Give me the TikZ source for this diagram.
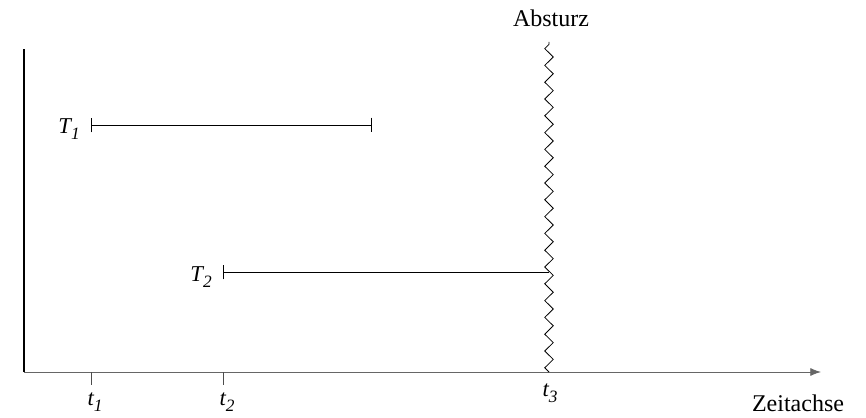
\documentclass[tikz,border=0pt]{standalone}
\usepackage{fontspec}
\setmainfont{Liberation Serif}
\usepackage{tikz}
\usetikzlibrary{arrows.meta, positioning, decorations.pathmorphing}

\newcommand{\lowidx}[1]{\raisebox{-0.3em}{\fontsize{13}{15}\selectfont #1}}

\begin{document}
\begin{tikzpicture}[
    x=0.75pt, y=-0.75pt,
    axis/.style={line width=0.6pt, color=black!60},
    tick/.style={line width=0.6pt, color=black!70},
    task/.style={line width=0.6pt, black},
    lbl/.style={inner sep=0pt, anchor=base, font=\fontsize{17}{20}\selectfont\itshape},
    caption/.style={inner sep=0pt, anchor=base, font=\fontsize{18}{21}\selectfont},
    crash/.style={line width=0.6pt, decorate, decoration={zigzag, segment length=12.6pt, amplitude=3.2pt}}
]
    \useasboundingbox (0,0) rectangle (866,417);

    % axes
    \coordinate (origin) at (24,372);
    \coordinate (ytop) at (24,49);
    \coordinate (xend) at (821,372);
    \draw[line width=1pt] (origin) -- (ytop);
    \draw[axis, -{Latex[length=8pt,width=6pt]}] (origin) -- (xend);

    % time marks
    \coordinate (t1) at (91,372);
    \coordinate (t2) at (223,372);
    \coordinate (t3) at (549,372);
    \foreach \t in {t1,t2}
        \draw[tick] (\t) -- ++(0,13);
    \node[lbl] (lt1) at (95,405) {t\lowidx{1}};
    \node[lbl] (lt2) at (227,405) {t\lowidx{2}};
    \node[lbl] (lt3) at (550,396) {t\lowidx{3}};
    \node[caption] (zeit) at (798,411) {Zeitachse};

    % crash
    \coordinate (crashtop) at (549,42);
    \draw[crash] (t3) -- (crashtop);
    \node[caption] (absturz) at (551,27) {Absturz};

    % transactions
    \coordinate (a1) at (91,125);
    \coordinate (e1) at (372,125);
    \coordinate (a2) at (223,272);
    \coordinate (e2) at (549,272);
    \draw[task, {Bar[width=11pt]}-{Bar[width=11pt]}] (a1) -- (e1);
    \draw[task, {Bar[width=11pt]}-] (a2) -- (e2);
    \node[lbl, anchor=base east] (T1) at (80,133) {T\lowidx{1}};
    \node[lbl, anchor=base east] (T2) at (212,281) {T\lowidx{2}};
\end{tikzpicture}
\end{document}
